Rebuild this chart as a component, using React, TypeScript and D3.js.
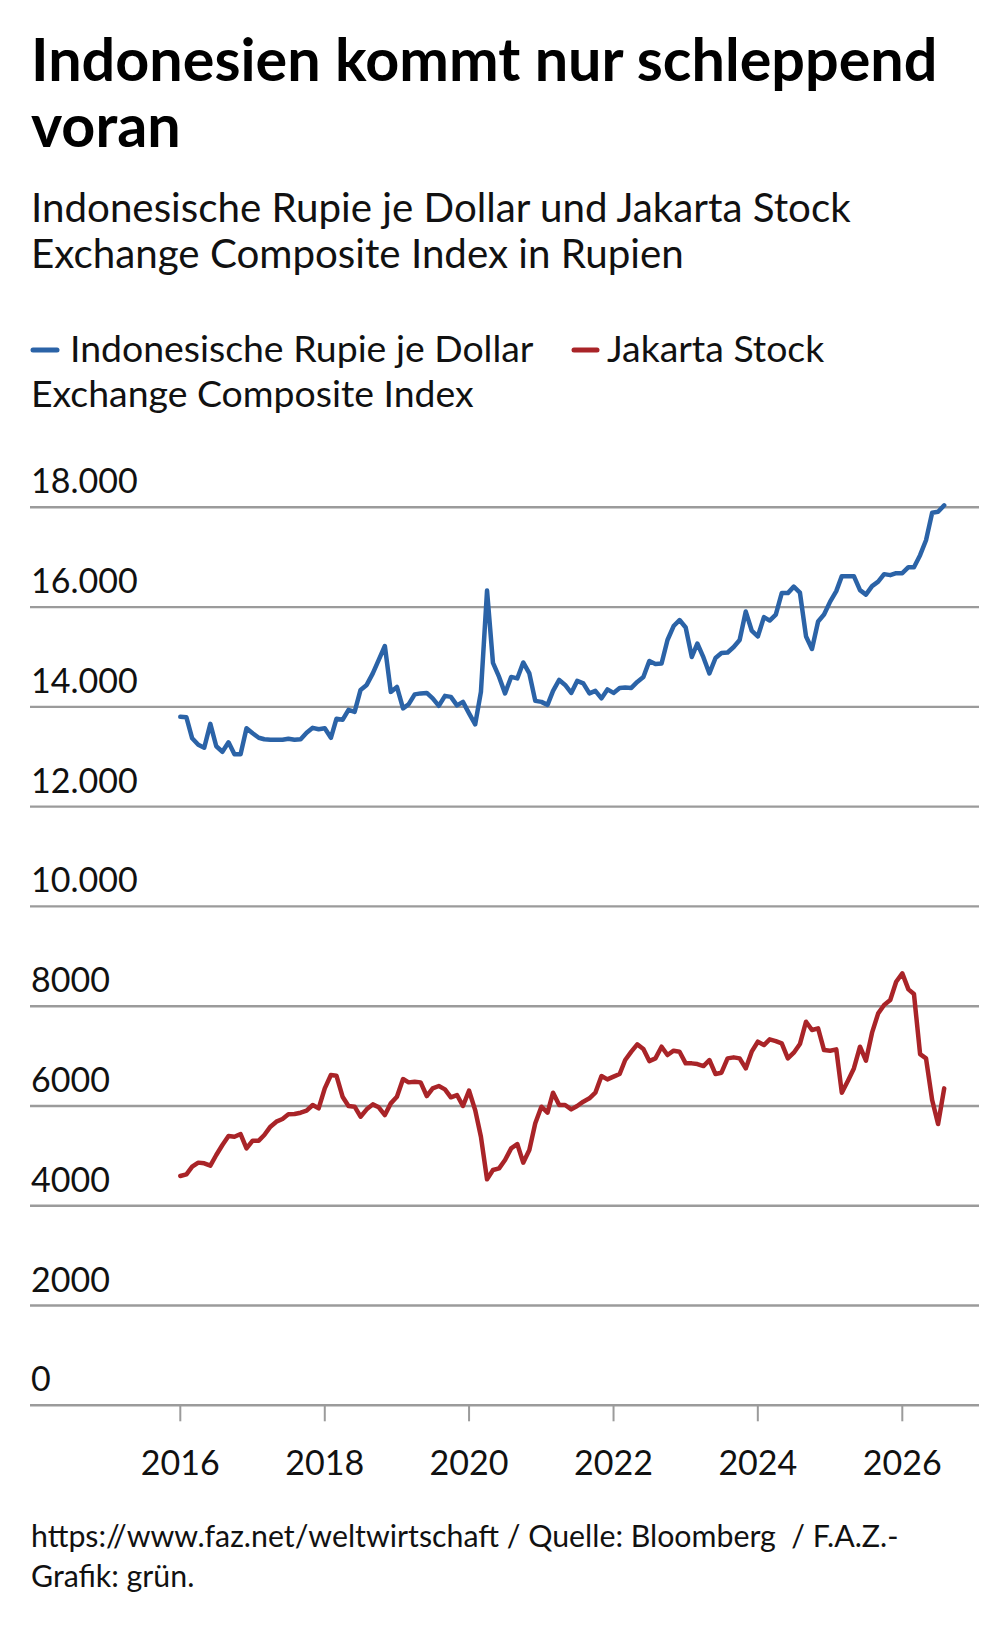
import * as d3 from "d3";

// monthly values, first point = Jan 2016
const startYear = 2016;
const rupiePerDollar = [
  13800, 13790, 13370, 13240, 13180, 13660, 13210, 13100, 13290, 13050, 13050, 13570,
  13470, 13380, 13350, 13340, 13340, 13340, 13360, 13340, 13350, 13480, 13580, 13550,
  13570, 13380, 13760, 13740, 13940, 13900, 14340, 14440, 14670, 14940, 15220, 14300,
  14400, 13970, 14050, 14250, 14270, 14280, 14170, 14020, 14220, 14200, 14030, 14100,
  13870, 13650, 14300, 16330, 14880, 14600, 14270, 14600, 14570, 14890, 14670, 14120,
  14100, 14040, 14320, 14540, 14440, 14280, 14520, 14470, 14270, 14320, 14170, 14350,
  14280, 14380, 14390, 14380, 14500, 14600, 14920, 14860, 14870, 15340, 15620, 15740,
  15590, 15000, 15270, 14990, 14670, 14980, 15080, 15090, 15200, 15340, 15910, 15530,
  15410, 15800, 15730, 15850, 16280, 16280, 16410, 16290, 15410, 15160, 15710, 15850,
  16110, 16320, 16620, 16620, 16620, 16340, 16250, 16420, 16510, 16660, 16640, 16680,
  16680, 16800, 16800, 17040, 17340, 17890, 17910, 18040,
];
const jakartaComposite = [
  4596, 4630, 4783, 4864, 4850, 4803, 5017, 5217, 5397, 5384, 5437, 5150,
  5304, 5304, 5418, 5585, 5685, 5738, 5832, 5838, 5865, 5905, 6019, 5952,
  6353, 6620, 6607, 6186, 5999, 5985, 5785, 5932, 6032, 5972, 5818, 6052,
  6186, 6540, 6473, 6487, 6473, 6199, 6353, 6400, 6333, 6173, 6219, 5999,
  6306, 5918, 5384, 4529, 4716, 4750, 4917, 5150, 5237, 4863, 5117, 5652,
  5985, 5865, 6266, 6019, 6019, 5932, 5999, 6086, 6153, 6266, 6600, 6533,
  6587, 6640, 6921, 7088, 7235, 7141, 6900, 6954, 7188, 7021, 7108, 7088,
  6854, 6854, 6840, 6800, 6921, 6640, 6667, 6954, 6974, 6954, 6753, 7088,
  7288, 7221, 7335, 7301, 7255, 6954, 7068, 7241, 7689, 7522, 7556, 7121,
  7108, 7134, 6266, 6507, 6753, 7188, 6907, 7469, 7856, 8023, 8123, 8490,
  8658, 8337, 8243, 7040, 6954, 6118, 5637, 6353,
];
const yTicks = [0, 2000, 4000, 6000, 8000, 10000, 12000, 14000, 16000, 18000];
const yTickLabels = ["0", "2000", "4000", "6000", "8000", "10.000", "12.000", "14.000", "16.000", "18.000"];
const xTickYears = [2016, 2018, 2020, 2022, 2024, 2026];

const BLUE = "#2b63a7";
const RED = "#a92428";
const GRID = "#9b9b9b";
const FONT = "Lato, 'Noto Sans', sans-serif";

const W = 1005;
const H = 1626;
const plotLeft = 30;
const plotRight = 979;

export default function App() {
  const x = d3
    .scaleTime()
    .domain([new Date(2016, 0, 1), new Date(2026, 0, 1)])
    .range([180.3, 902.3]);
  const y = d3.scaleLinear().domain([0, 18000]).range([1405.3, 507.3]);

  const dateOf = (i: number) => new Date(startYear, i, 1);
  const line = d3
    .line<number>()
    .x((_, i) => x(dateOf(i)))
    .y((d) => y(d));

  return (
    <svg
      width={W}
      height={H}
      style={{ position: "absolute", left: 0, top: 0, background: "#fff" }}
      fontFamily={FONT}
    >
      <text x={31} y={81} fontSize={59.3} fontWeight={700} fill="#000">
        Indonesien kommt nur schleppend
      </text>
      <text x={31} y={147} fontSize={59.3} fontWeight={700} fill="#000">
        voran
      </text>

      <text x={31} y={222} fontSize={40.3} fill="#111">
        Indonesische Rupie je Dollar und Jakarta Stock
      </text>
      <text x={31} y={268} fontSize={40.3} fill="#111">
        Exchange Composite Index in Rupien
      </text>

      {/* legend */}
      <line x1={33} x2={57} y1={350} y2={350} stroke={BLUE} strokeWidth={5} strokeLinecap="round" />
      <text x={70} y={362} fontSize={37.4} fill="#111">
        Indonesische Rupie je Dollar
      </text>
      <line x1={574} x2={597} y1={350} y2={350} stroke={RED} strokeWidth={5} strokeLinecap="round" />
      <text x={607} y={362} fontSize={37.4} fill="#111">
        Jakarta Stock
      </text>
      <text x={31} y={407} fontSize={37.4} fill="#111">
        Exchange Composite Index
      </text>

      {/* grid + y labels */}
      {yTicks.map((t, k) => (
        <g key={t}>
          <line x1={plotLeft} x2={plotRight} y1={y(t)} y2={y(t)} stroke={GRID} strokeWidth={2.4} />
          <text x={31} y={y(t) - 14} fontSize={34} fill="#111">
            {yTickLabels[k]}
          </text>
        </g>
      ))}

      {/* x axis ticks */}
      {xTickYears.map((yr) => {
        const px = x(new Date(yr, 0, 1));
        return (
          <g key={yr}>
            <line x1={px} x2={px} y1={y(0)} y2={y(0) + 16} stroke={GRID} strokeWidth={2} />
            <text x={px} y={1475} fontSize={34} textAnchor="middle" fill="#111">
              {yr}
            </text>
          </g>
        );
      })}

      <path
        d={line(rupiePerDollar) || ""}
        fill="none"
        stroke={BLUE}
        strokeWidth={4.5}
        strokeLinejoin="round"
        strokeLinecap="round"
      />
      <path
        d={line(jakartaComposite) || ""}
        fill="none"
        stroke={RED}
        strokeWidth={4.5}
        strokeLinejoin="round"
        strokeLinecap="round"
      />

      <text x={31} y={1547} fontSize={30.3} fill="#111" style={{ whiteSpace: "pre" }}>
        {"https://www.faz.net/weltwirtschaft / Quelle: Bloomberg  / F.A.Z.-"}
      </text>
      <text x={31} y={1587} fontSize={30.3} fill="#111">
        Grafik: grün.
      </text>
    </svg>
  );
}
